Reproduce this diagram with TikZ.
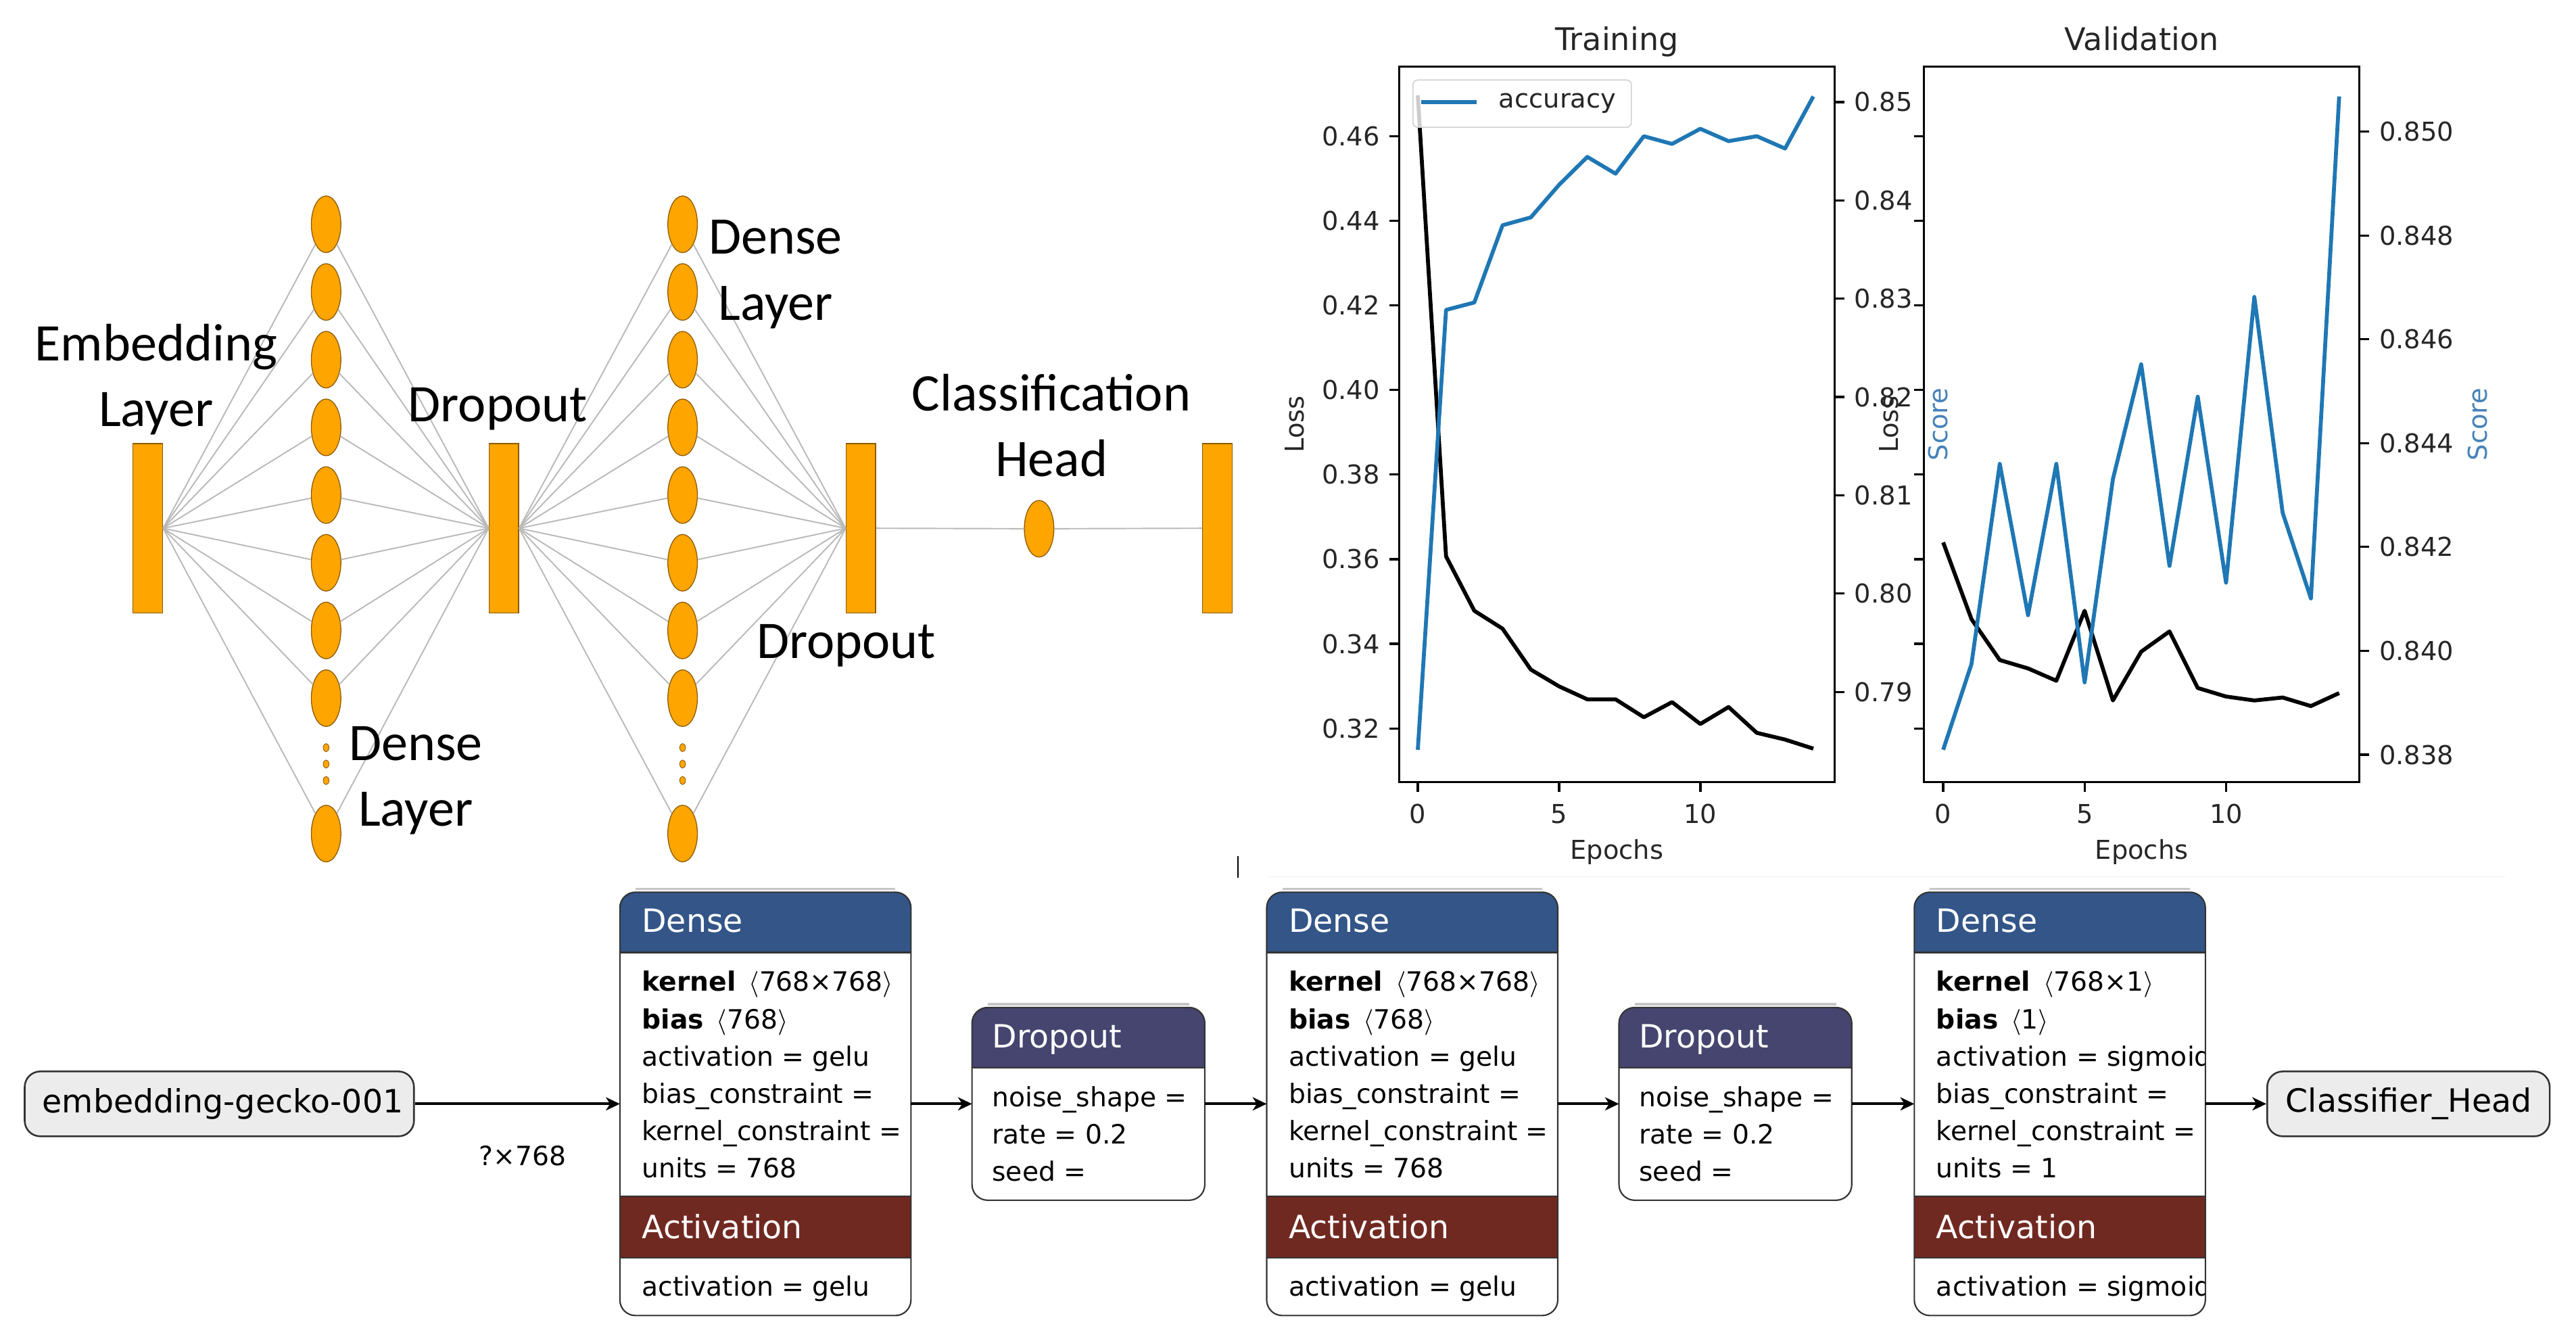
\documentclass[tikz,border=0pt]{standalone}
\usepackage{fontspec}
\usetikzlibrary{shapes.geometric,arrows.meta}

\newfontfamily\nnfont{Carlito}
\newfontfamily\dvsans{DejaVu Sans}

\definecolor{nnorange}{RGB}{255,165,0}
\definecolor{nnedge}{RGB}{140,90,0}
\definecolor{mplblue}{HTML}{1F77B4}
\definecolor{scoreblue}{RGB}{70,130,185}
\definecolor{densehead}{RGB}{51,85,136}
\definecolor{drophead}{RGB}{69,69,112}
\definecolor{acthead}{RGB}{112,41,33}
\definecolor{netedge}{RGB}{51,51,51}
\definecolor{iofill}{RGB}{236,236,236}

\begin{document}
\begin{tikzpicture}
  [x=0.02cm,y=-0.02cm,every node/.style={inner sep=0pt},
   bar/.style={rectangle,fill=nnorange,draw=nnedge,line width=0.3pt,
     minimum width=0.36cm,minimum height=2.06cm},
   neuron/.style={ellipse,fill=nnorange,draw=nnedge,line width=0.3pt,
     minimum width=0.36cm,minimum height=0.69cm},
   link/.style={draw=gray!55,line width=0.45pt},
   nnlabel/.style={font=\nnfont\fontsize{18.3}{22.8}\selectfont,align=center},
   axisframe/.style={draw=black,line width=0.75pt},
   axtick/.style={draw=black,line width=0.75pt},
   ticklabel/.style={font=\dvsans\fontsize{9}{10}\selectfont,text=black!85},
   titlelabel/.style={font=\dvsans\fontsize{10.8}{12}\selectfont,text=black!85,anchor=base},
   lossline/.style={draw=black,line width=1.35pt,line join=round},
   accline/.style={draw=mplblue,line width=1.35pt,line join=round},
   netblock/.style={rectangle,fill=white,rounded corners=0.19cm},
   netframe/.style={draw=netedge,line width=0.5pt,rounded corners=0.19cm},
   netshadow/.style={draw=gray!45,line width=0.8pt},
   iobox/.style={rectangle,fill=iofill,draw=netedge,line width=0.6pt,
     rounded corners=0.19cm,minimum height=0.79cm},
   iotext/.style={font=\dvsans\fontsize{11.1}{12}\selectfont,anchor=west},
   headtext/.style={font=\dvsans\fontsize{11.1}{12}\selectfont,text=white,anchor=base west},
   bodytext/.style={font=\dvsans\fontsize{9.2}{11}\selectfont,anchor=base west},
   flow/.style={-{Stealth[length=0.17cm,width=0.16cm,inset=0.05cm]},line width=0.95pt}]

  \useasboundingbox (0,0) rectangle (1568,817);

  % ---- network sketch
  \node[bar] (emb)   at (90,321.5)  {};
  \node[bar] (drop1) at (306.7,321.5) {};
  \node[bar] (drop2) at (524,321.5) {};
  \node[bar] (out)   at (741,321.5) {};
  \node[neuron] (head) at (632.5,321.8) {};

  \foreach \k in {0,...,7,9} {
    \node[neuron] (a\k) at (198.5,136.5+41.2*\k) {};
    \node[neuron] (b\k) at (415.5,136.5+41.2*\k) {};
    \draw[link] (emb.east) -- (a\k) -- (drop1.west);
    \draw[link] (drop1.east) -- (b\k) -- (drop2.west);
  }
  \foreach \y in {455,465,475} {
    \filldraw[fill=nnorange,draw=nnedge,line width=0.2pt] (198.5,\y) ellipse (0.035cm and 0.05cm);
    \filldraw[fill=nnorange,draw=nnedge,line width=0.2pt] (415.5,\y) ellipse (0.035cm and 0.05cm);
  }
  \draw[link] (drop2.east) -- (head) -- (out.west);

  \node[nnlabel] (lbl-emb)   at (95,231)  {Embedding\\Layer};
  \node[nnlabel] (lbl-drop1) at (303,249) {Dropout};
  \node[nnlabel] (lbl-dense2) at (472,167) {Dense\\Layer};
  \node[nnlabel] (lbl-dense1) at (253,475) {Dense\\Layer};
  \node[nnlabel] (lbl-drop2) at (515,393) {Dropout};
  \node[nnlabel] (lbl-head)  at (640,259) {Classification\\Head};

  % ---- training curves
  \begin{scope}[shift={(863,0)},x=0.344cm]
    \draw[lossline] plot coordinates {(0,58) (1,338.6) (2,371.7) (3,382.6) (4,407.5)
      (5,417.7) (6,425.6) (7,425.6) (8,436.5) (9,427.3) (10,440.6) (11,430.3)
      (12,446.0) (13,450.1) (14,455.6)};
    \draw[accline] plot coordinates {(0,456.3) (1,188.6) (2,184.1) (3,137.1) (4,132.3)
      (5,112.5) (6,95.5) (7,105.7) (8,82.9) (9,87.6) (10,78.4) (11,85.9)
      (12,82.9) (13,90.4) (14,58.7)};
  \end{scope}
  \draw[fill=white,fill opacity=0.8,draw=gray!35,rounded corners=0.06cm]
    (860,48.7) rectangle (993,77.5);
  \draw[accline] (865,62) -- (899,62);
  \node[ticklabel,anchor=west] (legend-acc) at (912,63) {accuracy};
  \draw[axisframe] (851.8,40.4) rectangle (1116.6,476);

  % ---- validation curves
  \begin{scope}[shift={(1182.8,0)},x=0.3444cm]
    \draw[lossline] plot coordinates {(0,330.1) (1,376.8) (2,401.7) (3,406.8) (4,414.3)
      (5,371.7) (6,426.3) (7,396.6) (8,384.3) (9,418.7) (10,423.9) (11,426.3)
      (12,424.5) (13,429.7) (14,421.8)};
    \draw[accline] plot coordinates {(0,456.3) (1,404.1) (2,282.3) (3,374.4) (4,282.3)
      (5,415.3) (6,291.6) (7,221.7) (8,344.4) (9,241.4) (10,354.6) (11,180.7)
      (12,312.0) (13,364.2) (14,58.7)};
  \end{scope}
  \draw[axisframe] (1171,40.4) rectangle (1436.2,476);

  % ---- axes ticks and labels
  \foreach \i/\v in {0/0.32,1/0.34,2/0.36,3/0.38,4/0.40,5/0.42,6/0.44,7/0.46} {
    \draw[axtick] (851.8,443.3-51.49*\i) -- ++(-6,0);
    \draw[axtick] (1171,443.3-51.49*\i) -- ++(-6,0);
    \node[ticklabel,anchor=east] (loss\i) at (840.2,443.3-51.49*\i) {\v};
  }
  \foreach \i/\v in {0/0.79,1/0.80,2/0.81,3/0.82,4/0.83,5/0.84,6/0.85} {
    \draw[axtick] (1116.6,421.1-59.83*\i) -- ++(6,0);
    \node[ticklabel,anchor=west] (acc\i) at (1128.5,421.1-59.83*\i) {\v};
  }
  \foreach \i/\v in {0/0.838,1/0.840,2/0.842,3/0.844,4/0.846,5/0.848,6/0.850} {
    \draw[axtick] (1436.2,459.3-63.2*\i) -- ++(6,0);
    \node[ticklabel,anchor=west] (score\i) at (1448,459.3-63.2*\i) {\v};
  }
  \foreach \e in {0,5,10} {
    \draw[axtick] (863+17.2*\e,476) -- ++(0,6);
    \draw[axtick] (1182.8+17.22*\e,476) -- ++(0,6);
    \node[ticklabel,anchor=base] (te\e) at (863+17.2*\e,501) {\e};
    \node[ticklabel,anchor=base] (ve\e) at (1182.8+17.22*\e,501) {\e};
  }
  \node[ticklabel,anchor=base] (xlab-train) at (984.2,523) {Epochs};
  \node[ticklabel,anchor=base] (xlab-val)   at (1303.6,523) {Epochs};
  \node[titlelabel] (title-train) at (984.2,30.7)  {Training};
  \node[titlelabel] (title-val)   at (1303.6,30.7) {Validation};
  \node[ticklabel,rotate=90] (ylab-loss)  at (788,258.2)    {Loss};
  \node[ticklabel,rotate=90] (ylab-vloss) at (1149.8,258.2) {Loss};
  \node[ticklabel,rotate=90,text=scoreblue] (ylab-score1) at (1179.5,258.2) {Score};
  \node[ticklabel,rotate=90,text=scoreblue] (ylab-score2) at (1508,258.2)   {Score};

  \draw[gray!12,line width=0.4pt] (772,533.6) -- (1525,533.6);
  \draw[black,line width=0.4pt] (753.5,521) -- (753.5,534);

  % ---- model graph
  \node[iobox,minimum width=4.74cm] (input) at (133.5,671.8) {};
  \node[iotext] (input-label) at ([xshift=0.22cm]input.west) {embedding-gecko-001};

  \foreach \n/\cx/\kdim/\bdim/\act/\units in
      {1/465.9/768×768/768/gelu/768, 2/859.6/768×768/768/gelu/768,
       3/1253.8/768×1/1/sigmoid/1} {
    \node[netblock,minimum width=3.53cm,minimum height=5.14cm] (dense\n) at (\cx,671.8) {};
    \draw[netshadow] ([xshift=0.19cm,yshift=0.04cm]dense\n.north west) -- ([xshift=-0.19cm,yshift=0.04cm]dense\n.north east);
    \begin{scope}
      \clip[rounded corners=0.19cm] (dense\n.north west) rectangle (dense\n.south east);
      \fill[densehead] (dense\n.north west) rectangle ([yshift=-0.734cm]dense\n.north east);
      \fill[acthead] ([yshift=-3.70cm]dense\n.north west) rectangle ([yshift=-4.45cm]dense\n.north east);
      \node[headtext] (dense\n-title) at (\cx-75.5,567.5) {Dense};
      \node[bodytext] (dense\n-k) at (\cx-75.5,603.3) {\textbf{kernel}\, $\langle$\kdim$\rangle$};
      \node[bodytext] (dense\n-b) at (\cx-75.5,626.0) {\textbf{bias}\, $\langle$\bdim$\rangle$};
      \node[bodytext] (dense\n-a) at (\cx-75.5,648.7) {activation = \act};
      \node[bodytext] (dense\n-bc) at (\cx-75.5,671.4) {bias\_constraint =};
      \node[bodytext] (dense\n-kc) at (\cx-75.5,694.1) {kernel\_constraint =};
      \node[bodytext] (dense\n-u) at (\cx-75.5,716.8) {units = \units};
      \node[headtext] (act\n-title) at (\cx-75.5,753.7) {Activation};
      \node[bodytext] (act\n-a) at (\cx-75.5,788.8) {activation = \act};
    \end{scope}
    \draw[netedge,line width=0.6pt] ([yshift=-0.734cm]dense\n.north west) -- ([yshift=-0.734cm]dense\n.north east);
    \draw[netedge,line width=0.6pt] ([yshift=-3.70cm]dense\n.north west) -- ([yshift=-3.70cm]dense\n.north east);
    \draw[netedge,line width=0.6pt] ([yshift=-4.45cm]dense\n.north west) -- ([yshift=-4.45cm]dense\n.north east);
    \draw[netframe] (dense\n.north west) rectangle (dense\n.south east);
  }

  \foreach \n/\cx in {a/662.5, b/1056.3} {
    \node[netblock,minimum width=2.82cm,minimum height=2.332cm] (drop-\n) at (\cx,671.8) {};
    \draw[netshadow] ([xshift=0.19cm,yshift=0.04cm]drop-\n.north west) -- ([xshift=-0.19cm,yshift=0.04cm]drop-\n.north east);
    \begin{scope}
      \clip[rounded corners=0.19cm] (drop-\n.north west) rectangle (drop-\n.south east);
      \fill[drophead] (drop-\n.north west) rectangle ([yshift=-0.732cm]drop-\n.north east);
      \node[headtext] (drop-\n-title) at (\cx-58.9,637.5) {Dropout};
      \node[bodytext] (drop-\n-ns) at (\cx-58.9,673.6) {noise\_shape =};
      \node[bodytext] (drop-\n-r) at (\cx-58.9,696.0) {rate = 0.2};
      \node[bodytext] (drop-\n-s) at (\cx-58.9,718.6) {seed =};
    \end{scope}
    \draw[netedge,line width=0.6pt] ([yshift=-0.732cm]drop-\n.north west) -- ([yshift=-0.732cm]drop-\n.north east);
    \draw[netframe] (drop-\n.north west) rectangle (drop-\n.south east);
  }

  \node[iobox,minimum width=3.44cm] (classifier) at (1466,671.8) {};
  \node[iotext] (classifier-label) at ([xshift=0.23cm]classifier.west) {Classifier\_Head};

  \draw[flow] (input) -- (dense1);
  \draw[flow] (dense1) -- (drop-a);
  \draw[flow] (drop-a) -- (dense2);
  \draw[flow] (dense2) -- (drop-b);
  \draw[flow] (drop-b) -- (dense3);
  \draw[flow] (dense3) -- (classifier);
  \node[bodytext,anchor=center] (shape-label) at (318,703.3) {?×768};
\end{tikzpicture}
\end{document}
